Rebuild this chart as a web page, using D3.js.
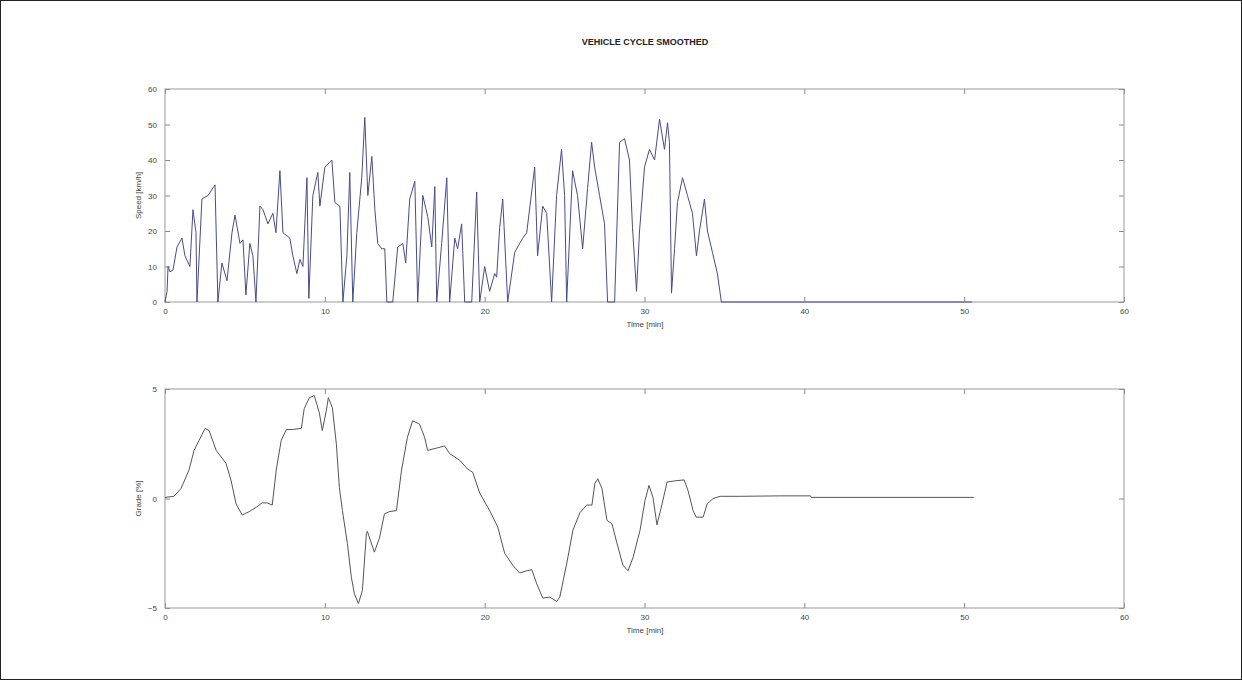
<!DOCTYPE html>
<html>
<head>
<meta charset="utf-8">
<script src="https://cdn.jsdelivr.net/npm/d3@7"></script>
<style>
  body { margin: 0; background: #fff; }
  svg { display: block; font-family: "Liberation Sans", Arial, sans-serif; }
  .tick text { fill: #444; font-size: 8px; }
  .tick line { stroke: #888; }
  .lbl { fill: #444; font-size: 8px; }
</style>
</head>
<body>
<svg id="chart" width="1242" height="680"></svg>
<script>
// speed trace, time [min] / speed [km/h]
var speedTime = [0, 0.13, 0.19, 0.31, 0.5, 0.75, 1.06, 1.25, 1.56, 1.75, 1.94, 2.0, 2.31, 2.69, 3.13, 3.31,
  3.56, 3.88, 4.19, 4.38, 4.69, 4.88, 5.06, 5.31, 5.5, 5.69, 5.94, 6.13, 6.44, 6.75, 6.94, 7.19, 7.38,
  7.81, 8.0, 8.25, 8.44, 8.63, 8.88, 9.0, 9.25, 9.56, 9.69, 10.0, 10.44, 10.63, 10.94, 11.13, 11.38,
  11.56, 11.75, 12.0, 12.31, 12.5, 12.69, 12.94, 13.13, 13.31, 13.56, 13.75, 13.88, 14.25, 14.56, 14.88,
  15.06, 15.31, 15.63, 15.81, 16.13, 16.44, 16.69, 16.88, 17.0, 17.31, 17.63, 17.81, 18.13, 18.31, 18.56,
  18.75, 19.19, 19.5, 19.69, 20.0, 20.31, 20.63, 20.75, 20.94, 21.13, 21.44, 21.88, 22.38, 22.63, 23.13,
  23.31, 23.63, 23.88, 24.19, 24.5, 24.81, 25.0, 25.13, 25.5, 25.81, 26.13, 26.44, 26.69, 26.88, 27.19,
  27.5, 27.69, 28.13, 28.44, 28.75, 29.06, 29.25, 29.5, 29.69, 30.0, 30.31, 30.63, 30.94, 31.25, 31.44,
  31.56, 31.69, 31.88, 32.06, 32.38, 32.69, 33.0, 33.25, 33.44, 33.75, 33.94, 34.25, 34.56, 34.81, 35.63, 50.5];
var speedVal = [0, 3, 10, 8.5, 9, 15.5, 18, 13, 10, 26, 19.5, 0, 29, 30, 33, 0,
  11, 6, 19.5, 24.5, 16.5, 17.5, 2, 16.5, 13, 0, 27, 26, 22, 25, 19.5, 37, 19.5,
  18, 13, 8, 12, 10, 35, 1, 30, 36.5, 27, 38, 40, 28, 27, 0, 13,
  36.5, 0, 19.5, 35, 52, 30, 41, 26, 16.5, 15, 15, 0, 0, 15.5, 16.5,
  11, 29, 34, 0, 30, 24, 15.5, 32.5, 0, 16.5, 35, 0, 18, 15, 22,
  0, 0, 31, 0, 10, 3, 8, 7, 21, 29, 0, 14, 18, 19.5, 38,
  13, 27, 25, 0, 30, 43, 30, 0, 37, 30, 15, 32, 45, 38, 30,
  22, 0, 0, 45, 46, 40, 21, 3, 20, 38, 43, 40, 51.5, 43, 50.5,
  45, 2.5, 15, 28, 35, 30, 25, 13, 20, 29, 20, 14, 8, 0, 0, 0];

// grade trace, time [min] / grade [%]
var gradeTime = [0, 0.56, 1.0, 1.5, 1.82, 2.13, 2.51, 2.76, 3.2, 3.51, 3.82, 4.14, 4.45, 4.83, 5.27, 5.71,
  6.08, 6.39, 6.71, 6.96, 7.27, 7.59, 7.96, 8.53, 8.71, 9.03, 9.34, 9.66, 9.84, 10.09, 10.22, 10.47,
  10.72, 10.91, 11.1, 11.41, 11.66, 11.85, 12.1, 12.35, 12.6, 12.66, 13.1, 13.42, 13.73, 14.04, 14.48,
  14.8, 15.17, 15.49, 15.92, 16.24, 16.43, 16.99, 17.49, 17.81, 18.43, 18.93, 19.25, 19.69, 20.31, 20.82,
  21.25, 21.76, 22.19, 22.63, 22.95, 23.26, 23.64, 24.08, 24.51, 24.7, 25.14, 25.52, 25.96, 26.39, 26.71,
  26.9, 27.08, 27.34, 27.65, 27.96, 28.28, 28.65, 28.97, 29.28, 29.72, 30.03, 30.28, 30.53, 30.78, 31.1,
  31.41, 31.85, 32.48, 32.73, 33.04, 33.23, 33.67, 33.92, 34.29, 34.73, 35.99, 38.5, 40.38, 40.44, 50.6];
var gradeVal = [0.05, 0.1, 0.45, 1.3, 2.2, 2.65, 3.2, 3.1, 2.2, 1.9, 1.6, 0.8, -0.25, -0.75, -0.6, -0.4,
  -0.2, -0.2, -0.3, 1.3, 2.65, 3.15, 3.15, 3.2, 4.1, 4.6, 4.7, 3.9, 3.1, 4.0, 4.6, 4.15,
  2.5, 0.5, -0.55, -2.05, -3.6, -4.35, -4.8, -4.2, -1.6, -1.5, -2.45, -1.8, -0.7, -0.6, -0.55,
  1.3, 2.8, 3.55, 3.4, 2.8, 2.2, 2.3, 2.4, 2.05, 1.75, 1.35, 1.2, 0.25, -0.55, -1.3,
  -2.5, -3.05, -3.4, -3.3, -3.25, -3.9, -4.55, -4.5, -4.7, -4.5, -2.95, -1.45, -0.65, -0.3, -0.3,
  0.7, 0.9, 0.45, -1.0, -1.15, -2.05, -3.05, -3.3, -2.7, -1.45, -0.1, 0.6, 0.05, -1.2, -0.25,
  0.75, 0.8, 0.85, 0.35, -0.55, -0.85, -0.85, -0.25, 0.0, 0.1, 0.1, 0.12, 0.12, 0.05, 0.05];

var timeTicks = [0, 10, 20, 30, 40, 50, 60];
var speedTicks = [0, 10, 20, 30, 40, 50, 60];
var gradeTicks = [-5, 0, 5];

var svg = d3.select("#chart");

svg.append("rect")
  .attr("x", 0.5).attr("y", 0.5)
  .attr("width", 1241).attr("height", 679)
  .attr("fill", "none").attr("stroke", "#222");

svg.append("text")
  .attr("x", 645).attr("y", 45)
  .attr("text-anchor", "middle")
  .attr("font-size", 9).attr("font-weight", "bold").attr("fill", "#222")
  .text("VEHICLE CYCLE SMOOTHED");

function panel(top, bottom, yDomain, yTicks, yLabel, times, vals, color) {
  var x = d3.scaleLinear().domain([0, 60]).range([165, 1124]);
  var y = d3.scaleLinear().domain(yDomain).range([bottom, top]);
  var g = svg.append("g");

  g.append("g").attr("transform", "translate(0," + bottom + ")")
    .call(d3.axisBottom(x).tickValues(timeTicks).tickSize(-5).tickPadding(6))
    .call(function (a) { a.select(".domain").remove(); });
  g.append("g").attr("transform", "translate(0," + top + ")")
    .call(d3.axisTop(x).tickValues(timeTicks).tickSize(-5).tickFormat(""))
    .call(function (a) { a.select(".domain").remove(); });
  g.append("g").attr("transform", "translate(165,0)")
    .call(d3.axisLeft(y).tickValues(yTicks).tickSize(-5).tickPadding(8))
    .call(function (a) { a.select(".domain").remove(); });
  g.append("g").attr("transform", "translate(1124,0)")
    .call(d3.axisRight(y).tickValues(yTicks).tickSize(-5).tickFormat(""))
    .call(function (a) { a.select(".domain").remove(); });

  g.append("rect")
    .attr("x", 165).attr("y", top)
    .attr("width", 1124 - 165).attr("height", bottom - top)
    .attr("fill", "none").attr("stroke", "#999");

  var line = d3.line()
    .x(function (d, i) { return x(times[i]); })
    .y(function (d) { return y(d); });
  g.append("path")
    .datum(vals)
    .attr("d", line)
    .attr("fill", "none")
    .attr("stroke", color)
    .attr("stroke-width", 1);

  g.append("text").attr("class", "lbl")
    .attr("x", 645).attr("y", bottom + 25)
    .attr("text-anchor", "middle")
    .text("Time [min]");
  g.append("text").attr("class", "lbl")
    .attr("transform", "translate(141," + ((top + bottom) / 2) + ") rotate(-90)")
    .attr("text-anchor", "middle")
    .text(yLabel);
}

panel(89, 302, [0, 60], speedTicks, "Speed [km/h]", speedTime, speedVal, "#4a4a8c");
panel(389, 608, [-5, 5], gradeTicks, "Grade [%]", gradeTime, gradeVal, "#555");
</script>
</body>
</html>
